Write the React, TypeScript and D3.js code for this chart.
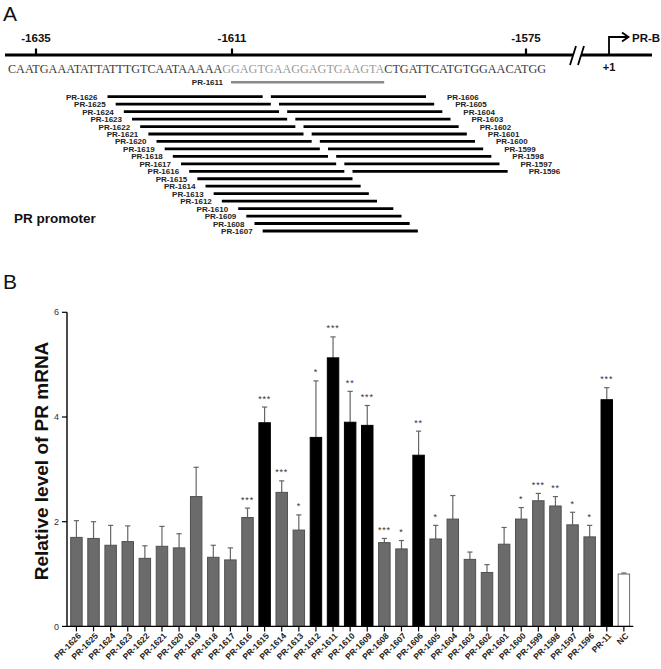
import React, { useEffect } from 'react';
import * as d3 from 'd3';

// ---------- Panel A data ----------
const seqBefore = 'CAATGAAATATTATTTGTCAATAAAAA';
const seqTarget = 'GGAGTGAAGGAGTGAAGTA';
const seqAfter = 'CTGATTCATGTGGAACATGG';
const positionTicks = [-1635, -1611, -1575];
const leftOligos = [-1626, -1625, -1624, -1623, -1622, -1621, -1620, -1619, -1618, -1617, -1616, -1615, -1614, -1613, -1612, -1610, -1609, -1608, -1607];
const rightOligos = [-1606, -1605, -1604, -1603, -1602, -1601, -1600, -1599, -1598, -1597, -1596];
const highlightOligo = -1611;
const oligoLength = 19;

// ---------- Panel B data ----------
const categories = ['PR-1626', 'PR-1625', 'PR-1624', 'PR-1623', 'PR-1622', 'PR-1621', 'PR-1620', 'PR-1619', 'PR-1618', 'PR-1617', 'PR-1616', 'PR-1615', 'PR-1614', 'PR-1613', 'PR-1612', 'PR-1611', 'PR-1610', 'PR-1609', 'PR-1608', 'PR-1607', 'PR-1606', 'PR-1605', 'PR-1604', 'PR-1603', 'PR-1602', 'PR-1601', 'PR-1600', 'PR-1599', 'PR-1598', 'PR-1597', 'PR-1596', 'PR-11', 'NC'];
const values = [1.70, 1.68, 1.55, 1.62, 1.30, 1.53, 1.50, 2.48, 1.32, 1.27, 2.08, 3.89, 2.56, 1.84, 3.61, 5.13, 3.90, 3.84, 1.60, 1.48, 3.27, 1.67, 2.05, 1.28, 1.03, 1.57, 2.05, 2.40, 2.30, 1.94, 1.71, 4.33, 1.00];
const errors = [0.32, 0.32, 0.38, 0.30, 0.24, 0.38, 0.27, 0.56, 0.23, 0.23, 0.18, 0.30, 0.22, 0.29, 1.08, 0.40, 0.59, 0.38, 0.08, 0.16, 0.46, 0.26, 0.45, 0.14, 0.15, 0.32, 0.22, 0.14, 0.18, 0.24, 0.22, 0.23, 0.02];
const significance = ['', '', '', '', '', '', '', '', '', '', '***', '***', '***', '*', '*', '***', '**', '***', '***', '*', '**', '*', '', '', '', '', '*', '***', '**', '*', '*', '***', ''];
const barKinds = ['g', 'g', 'g', 'g', 'g', 'g', 'g', 'g', 'g', 'g', 'g', 'b', 'g', 'g', 'b', 'b', 'b', 'b', 'g', 'g', 'b', 'g', 'g', 'g', 'g', 'g', 'g', 'g', 'g', 'g', 'g', 'b', 'w'];
const yTicks = [0, 2, 4, 6];

const W = 661;
const H = 669;
const sans = '"Liberation Sans", Arial, sans-serif';

export default function App() {
  useEffect(() => {
    document.body.style.margin = '0';
  }, []);

  // Panel A scales
  const posX = d3.scaleLinear().domain([-1635, -1575]).range([36, 526]);
  const rowY = (i: number) => 96.7 + i * 7.46;
  const lineStart = (p: number) => posX(p) - 2;
  const lineEnd = (p: number) => posX(p + oligoLength) - 2;
  const mainY = 55;
  const tssX = 609;

  // Panel B scales
  const x = d3.scaleBand<string>().domain(categories).range([67, 633.3]).paddingInner(0.33).paddingOuter(0.216);
  const y = d3.scaleLinear().domain([0, 6]).range([626.4, 312.3]);
  const bw = x.bandwidth();

  const fills: Record<string, string> = { g: '#6b6b6b', b: '#000000', w: '#ffffff' };
  const strokes: Record<string, string> = { g: '#505050', b: '#000000', w: '#6b6b6b' };

  return (
    <svg width={W} height={H} style={{ position: 'absolute', left: 0, top: 0, background: '#fff' }} fontFamily={sans}>
      {/* ---------------- Panel A ---------------- */}
      <text x={3} y={21} fontSize={21} fill="#111">A</text>

      {/* main line with break */}
      <line x1={5} x2={573} y1={mainY} y2={mainY} stroke="#000" strokeWidth={3} />
      <line x1={581} x2={652} y1={mainY} y2={mainY} stroke="#000" strokeWidth={3} />
      <line x1={570} y1={65} x2={576} y2={46} stroke="#000" strokeWidth={1.8} />
      <line x1={578} y1={65} x2={584} y2={46} stroke="#000" strokeWidth={1.8} />

      {positionTicks.map((p) => (
        <g key={p}>
          <line x1={posX(p)} x2={posX(p)} y1={mainY} y2={48.5} stroke="#000" strokeWidth={2.2} />
          <text x={posX(p)} y={42} textAnchor="middle" fontSize={11.5} fontWeight="bold" fill="#111">{p}</text>
        </g>
      ))}

      {/* TSS arrow */}
      <path d={`M${tssX},${mainY} V37 H628`} fill="none" stroke="#000" strokeWidth={1.8} />
      <path d="M622,32.5 L628.5,37 L622,41.5" fill="none" stroke="#000" strokeWidth={1.8} />
      <text x={632} y={42} fontSize={11.5} fontWeight="bold" fill="#111">PR-B</text>
      <text x={tssX} y={71} textAnchor="middle" fontSize={11} fontWeight="bold" fill="#111">+1</text>

      {/* sequence */}
      <text x={8} y={73} fontSize={12.6} fontFamily='"Liberation Serif", "Times New Roman", serif' textLength={538} lengthAdjust="spacingAndGlyphs" fill="#3a3a3a">
        <tspan>{seqBefore}</tspan>
        <tspan fill="#9a9a9a">{seqTarget}</tspan>
        <tspan>{seqAfter}</tspan>
      </text>

      {/* highlighted oligo */}
      <line x1={lineStart(highlightOligo) + 1} x2={lineEnd(highlightOligo) - 1} y1={82.3} y2={82.3} stroke="#8a8a8a" strokeWidth={2.6} />
      <text x={223} y={85} textAnchor="end" fontSize={8} fontWeight="bold" fill="#222">PR{highlightOligo}</text>

      {/* left oligos */}
      {leftOligos.map((p, i) => (
        <g key={p}>
          <line x1={lineStart(p)} x2={lineEnd(p)} y1={rowY(i)} y2={rowY(i)} stroke="#000" strokeWidth={2.8} />
          <text x={lineStart(p) - 10} y={rowY(i) + 3} textAnchor="end" fontSize={8} fontWeight="bold" fill="#222">PR{p}</text>
        </g>
      ))}
      {/* right oligos */}
      {rightOligos.map((p, i) => (
        <g key={p}>
          <line x1={lineStart(p)} x2={lineEnd(p)} y1={rowY(i)} y2={rowY(i)} stroke="#000" strokeWidth={2.8} />
          <text x={lineEnd(p) + 21} y={rowY(i) + 3} textAnchor="start" fontSize={8} fontWeight="bold" fill="#222">PR{p}</text>
        </g>
      ))}

      <text x={14} y={223} fontSize={13.5} fontWeight="bold" fill="#111">PR promoter</text>

      {/* ---------------- Panel B ---------------- */}
      <text x={3} y={289} fontSize={21} fill="#111">B</text>

      {/* y axis */}
      <line x1={67} x2={67} y1={y(6)} y2={y(0)} stroke="#000" strokeWidth={1.4} />
      {yTicks.map((t) => (
        <g key={t}>
          <line x1={62} x2={67} y1={y(t)} y2={y(t)} stroke="#000" strokeWidth={1.2} />
          <text x={59} y={y(t)} dy="0.35em" textAnchor="end" fontSize={9} fill="#333">{t}</text>
        </g>
      ))}
      <text transform="translate(48,461) rotate(-90)" textAnchor="middle" fontSize={19} fontWeight="bold" fill="#111">Relative level of PR mRNA</text>

      {/* bars */}
      {categories.map((c, i) => {
        const bx = x(c) as number;
        const top = y(values[i]);
        const eTop = y(values[i] + errors[i]);
        const cx = bx + bw / 2;
        return (
          <g key={c}>
            <line x1={cx} x2={cx} y1={top} y2={eTop} stroke="#666" strokeWidth={1.2} />
            <line x1={cx - 2.6} x2={cx + 2.6} y1={eTop} y2={eTop} stroke="#666" strokeWidth={1.2} />
            <rect x={bx} y={top} width={bw} height={y(0) - top} fill={fills[barKinds[i]]} stroke={strokes[barKinds[i]]} strokeWidth={1} />
            {significance[i] && (
              <text x={cx} y={eTop - 5.5} textAnchor="middle" fontSize={9} letterSpacing={0.8} fill="#333">{significance[i]}</text>
            )}
          </g>
        );
      })}

      {/* x axis */}
      <line x1={67} x2={633.3} y1={y(0)} y2={y(0)} stroke="#000" strokeWidth={1.4} />
      {categories.map((c) => {
        const cx = (x(c) as number) + bw / 2;
        return (
          <g key={c}>
            <line x1={cx} x2={cx} y1={y(0)} y2={y(0) + 5} stroke="#000" strokeWidth={1.2} />
            <text transform={`translate(${cx + 3},${y(0) + 8}) rotate(-45)`} dy="0.35em" textAnchor="end" fontSize={8.5} fontWeight="bold" fill="#222">{c}</text>
          </g>
        );
      })}
    </svg>
  );
}
